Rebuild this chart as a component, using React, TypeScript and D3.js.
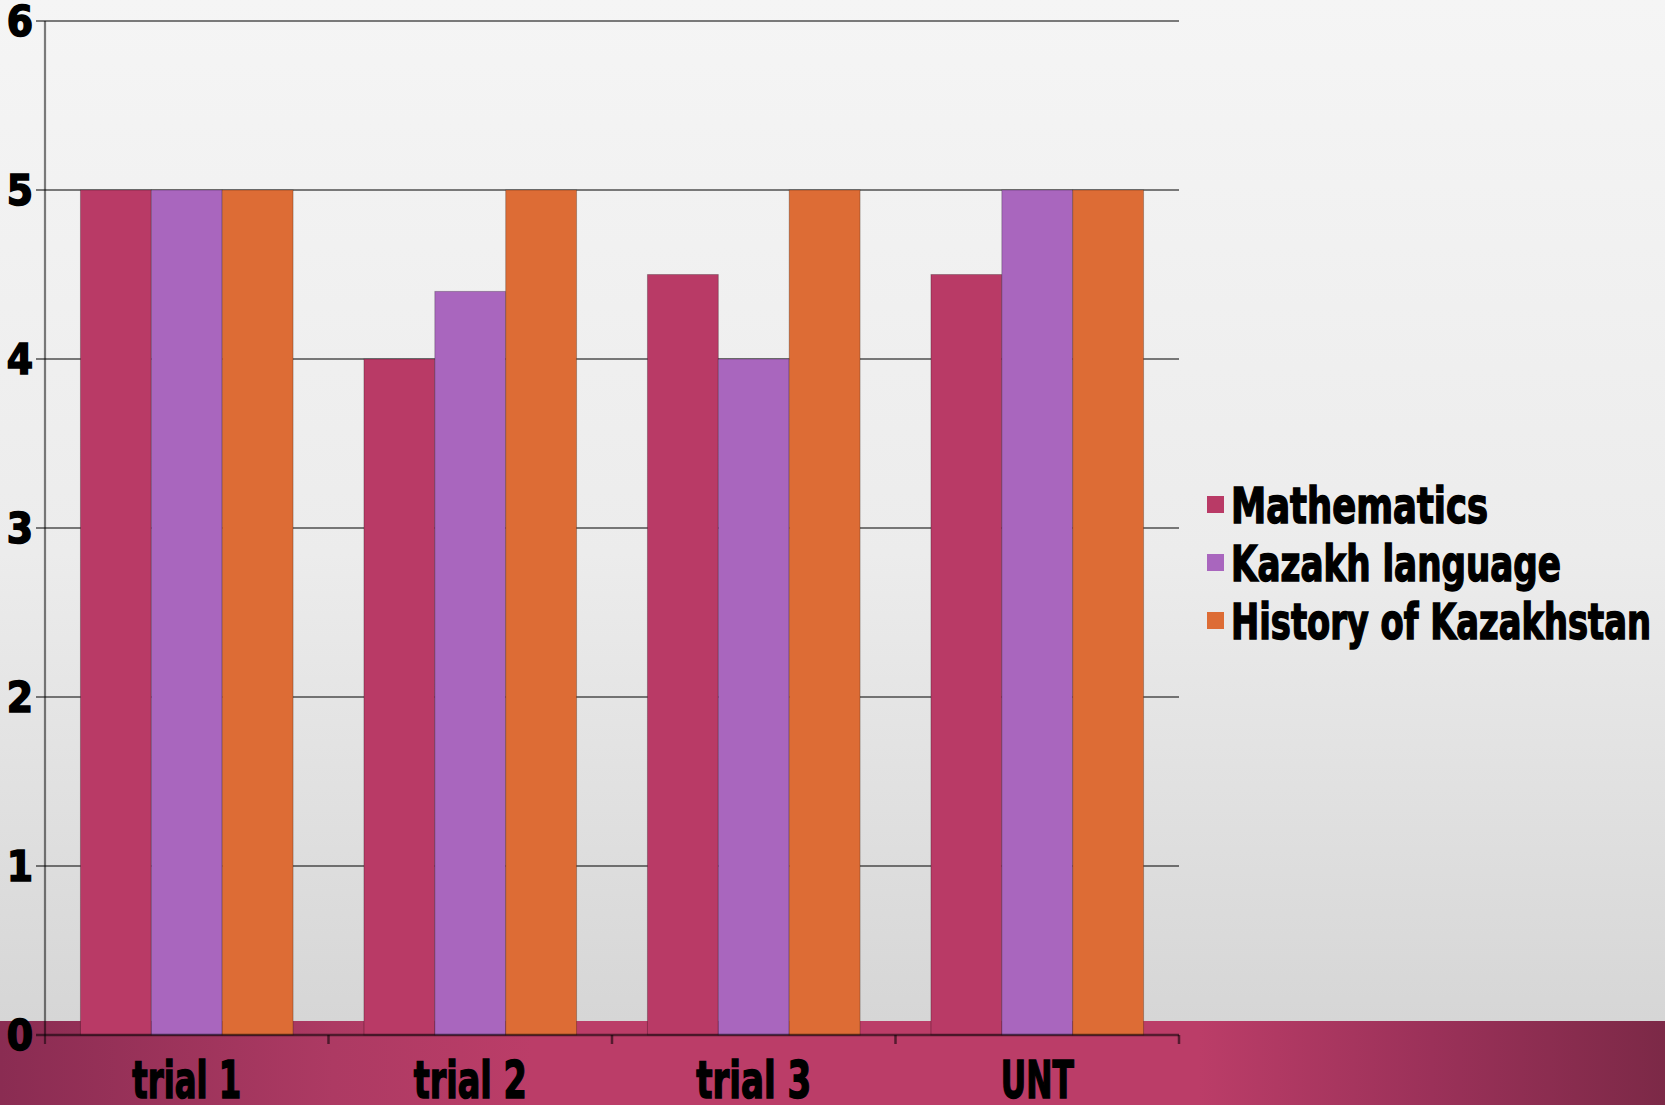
import React from "react";
import * as d3 from "d3";

const categories = ["trial 1", "trial 2", "trial 3", "UNT"];
const seriesNames = ["Mathematics", "Kazakh language", "History of Kazakhstan"];
const mathematics = [5, 4, 4.5, 4.5];
const kazakhLanguage = [5, 4.4, 4, 5];
const historyOfKazakhstan = [5, 5, 5, 5];
const yTicks = [0, 1, 2, 3, 4, 5, 6];
const colors = ["#b93a66", "#a966be", "#dd6c35"];

const W = 1665;
const H = 1105;
const FONT = "'DejaVu Sans Condensed', 'DejaVu Sans', Arial, sans-serif";

export default function App() {
  const series = [mathematics, kazakhLanguage, historyOfKazakhstan];
  const x0 = d3.scaleBand<string>().domain(categories).range([45, 1179]).paddingInner(0.25).paddingOuter(0.125);
  const x1 = d3.scaleBand<string>().domain(seriesNames).range([0, x0.bandwidth()]).padding(0);
  const y = d3.scaleLinear().domain([0, 6]).range([1035, 21]);
  const step = x0.step();
  const plotLeft = 45;
  const plotRight = 1179;
  const legendTextWidths = [257, 330, 420];
  const catTextWidths = [109, 113, 115, 73];

  return (
    <svg width={W} height={H} style={{ position: "absolute", left: 0, top: 0 }} fontFamily={FONT}>
      <defs>
        <linearGradient id="bg" x1="0" y1="0" x2="0" y2="1">
          <stop offset="0" stopColor="#f5f5f5" />
          <stop offset="0.5" stopColor="#ececec" />
          <stop offset="1" stopColor="#d2d2d2" />
        </linearGradient>
        <linearGradient id="band" x1="0" y1="0" x2="1" y2="0">
          <stop offset="0" stopColor="#8a2c52" />
          <stop offset="0.2" stopColor="#ad3a63" />
          <stop offset="0.32" stopColor="#bb3d68" />
          <stop offset="0.72" stopColor="#bb3d68" />
          <stop offset="0.86" stopColor="#9b3159" />
          <stop offset="1" stopColor="#7c2947" />
        </linearGradient>
      </defs>
      <rect x={0} y={0} width={W} height={H} fill="url(#bg)" />
      <rect x={0} y={1021} width={W} height={H - 1021} fill="url(#band)" />

      {/* gridlines */}
      {yTicks.filter((t) => t > 0).map((t) => (
        <line key={"g" + t} x1={plotLeft - 9} x2={plotRight} y1={y(t)} y2={y(t)} stroke="#000" strokeOpacity={0.5} strokeWidth={2.2} />
      ))}

      {/* bars */}
      {categories.map((c, ci) => (
        <g key={c} transform={`translate(${x0(c)},0)`}>
          {series.map((vals, si) => (
            <rect
              key={si}
              x={x1(seriesNames[si])}
              y={y(vals[ci])}
              width={x1.bandwidth()}
              height={y(0) - y(vals[ci])}
              fill={colors[si]}
              stroke="#000"
              strokeOpacity={0.25}
              strokeWidth={1}
            />
          ))}
        </g>
      ))}

      {/* axes */}
      <line x1={plotLeft} x2={plotLeft} y1={y(6)} y2={y(0) + 9} stroke="#000" strokeOpacity={0.5} strokeWidth={2.2} />
      <line x1={plotLeft - 9} x2={plotRight} y1={y(0)} y2={y(0)} stroke="#000" strokeOpacity={0.55} strokeWidth={2.5} />
      {categories.map((c) => (
        <line key={"t" + c} x1={(x0(c) as number) - step * 0.125 + step} x2={(x0(c) as number) - step * 0.125 + step} y1={y(0)} y2={y(0) + 9} stroke="#000" strokeOpacity={0.55} strokeWidth={2.5} />
      ))}

      {/* y tick labels */}
      {yTicks.map((t) => (
        <text key={"y" + t} x={33} y={y(t) + 15} textAnchor="end" fontSize={42} fontWeight="bold" fill="#000" stroke="#000" strokeWidth={1.5}>
          {t}
        </text>
      ))}

      {/* x labels */}
      {categories.map((c, i) => (
        <text
          key={"x" + c}
          x={(x0(c) as number) + x0.bandwidth() / 2 - catTextWidths[i] / 2}
          y={1098}
          fontSize={52}
          fontWeight="bold"
          fill="#000"
          stroke="#000"
          strokeWidth={1.5}
          textLength={catTextWidths[i]}
          lengthAdjust="spacingAndGlyphs"
        >
          {c}
        </text>
      ))}

      {/* legend */}
      {seriesNames.map((s, i) => (
        <g key={s} transform={`translate(1207, ${523 + i * 58})`}>
          <rect x={0} y={-27} width={17} height={17} fill={colors[i]} />
          <text x={24} y={0} fontSize={50} fontWeight="bold" fill="#000" stroke="#000" strokeWidth={1.5} textLength={legendTextWidths[i]} lengthAdjust="spacingAndGlyphs">
            {s}
          </text>
        </g>
      ))}
    </svg>
  );
}
